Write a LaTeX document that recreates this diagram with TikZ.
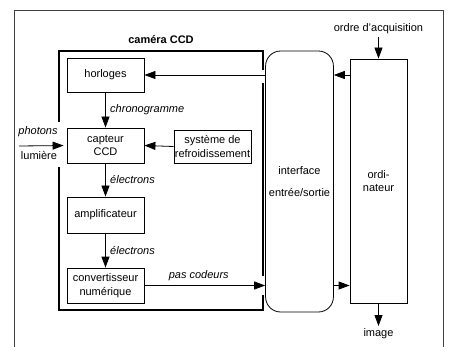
\documentclass[tikz,border=0pt]{standalone}
\usepackage{fontspec}
\setmainfont{Liberation Sans}
\usetikzlibrary{arrows.meta}
\begin{document}
\begin{tikzpicture}[x=1pt,y=-1pt,
  every node/.style={font=\fontsize{11}{13.5}\selectfont},
  box/.style={draw, line width=0.8pt, minimum width=77pt, inner sep=1pt, align=center},
  arr/.style={line width=0.8pt, -{Triangle[length=11pt,width=8pt]}},
  cam/.style={line width=1.6pt},
  lab/.style={font=\fontsize{11}{13}\selectfont\itshape}]
\useasboundingbox (0,0) rectangle (449,347);
\draw[line width=0.7pt, black!75] (14,347) -- (14,10) -- (443,10) -- (443,347);
% camera box
\draw[cam] (59,122) -- (59,51) -- (263,51) -- (263,70);
\draw[cam] (263,83) -- (263,276);
\draw[cam] (263,295) -- (263,310) -- (59,310) -- (59,167);
\node[font=\fontsize{11}{13}\selectfont\bfseries] (camlab) at (161,40) {caméra CCD};
% boxes
\node[box, minimum height=34pt] (hor) at (105.5,75) {horloges};
\node[box, minimum height=35pt] (cap) at (105.5,145.5) {capteur\\CCD};
\node[box, minimum width=75pt, minimum height=33pt] (ref) at (212.5,146.5) {système de\\refroidissement};
\node[box, minimum height=36pt] (amp) at (105.5,215) {amplificateur};
\node[box, minimum height=35pt] (conv) at (105.5,285.5) {convertisseur\\numérique};
\node[draw, line width=0.8pt, rounded corners=15pt, minimum width=63pt, minimum height=261pt, align=center] (ifc) at (299.5,181.5) {interface\\[8pt]entrée/sortie};
\node[draw, line width=0.8pt, minimum width=57pt, minimum height=244pt, align=center] (ord) at (378.5,181) {ordi-\\nateur};
% external ends
\coordinate (ph) at (19,146);
\node (phlab) at (38,132) [lab] {photons};
\node (lulab) at (39,156) {lumière};
\coordinate (acq) at (378.5,37);
\node (acqlab) at (378.5,29) {ordre d'acquisition};
\coordinate (img) at (378.5,326);
\node (imglab) at (378.5,334) {image};
% connectors
\draw[arr, shorten >=3pt] (ph) -- (cap.west);
\draw[arr] (hor.south) -- (cap.north) node[lab, midway, right, xshift=1pt] {chronogramme};
\draw[arr] (ref.west) -- (cap.east);
\draw[arr] (cap.south) -- (amp.north) node[lab, midway, right, xshift=1pt] {électrons};
\draw[arr] (amp.south) -- (conv.north) node[lab, midway, right, xshift=1pt] {électrons};
\draw[arr] (conv.east) -- (ifc.west |- conv.east) node[lab, pos=0.45, above, yshift=1pt] {pas codeurs};
\draw[arr] (ifc.east |- conv.east) -- (ord.west |- conv.east);
\draw[arr] (ord.west |- hor.east) -- (ifc.east |- hor.east);
\draw[arr] (ifc.west |- hor.east) -- (hor.east);
\draw[arr] (acq) -- (ord.north);
\draw[arr] (ord.south) -- (img);
\end{tikzpicture}
\end{document}
